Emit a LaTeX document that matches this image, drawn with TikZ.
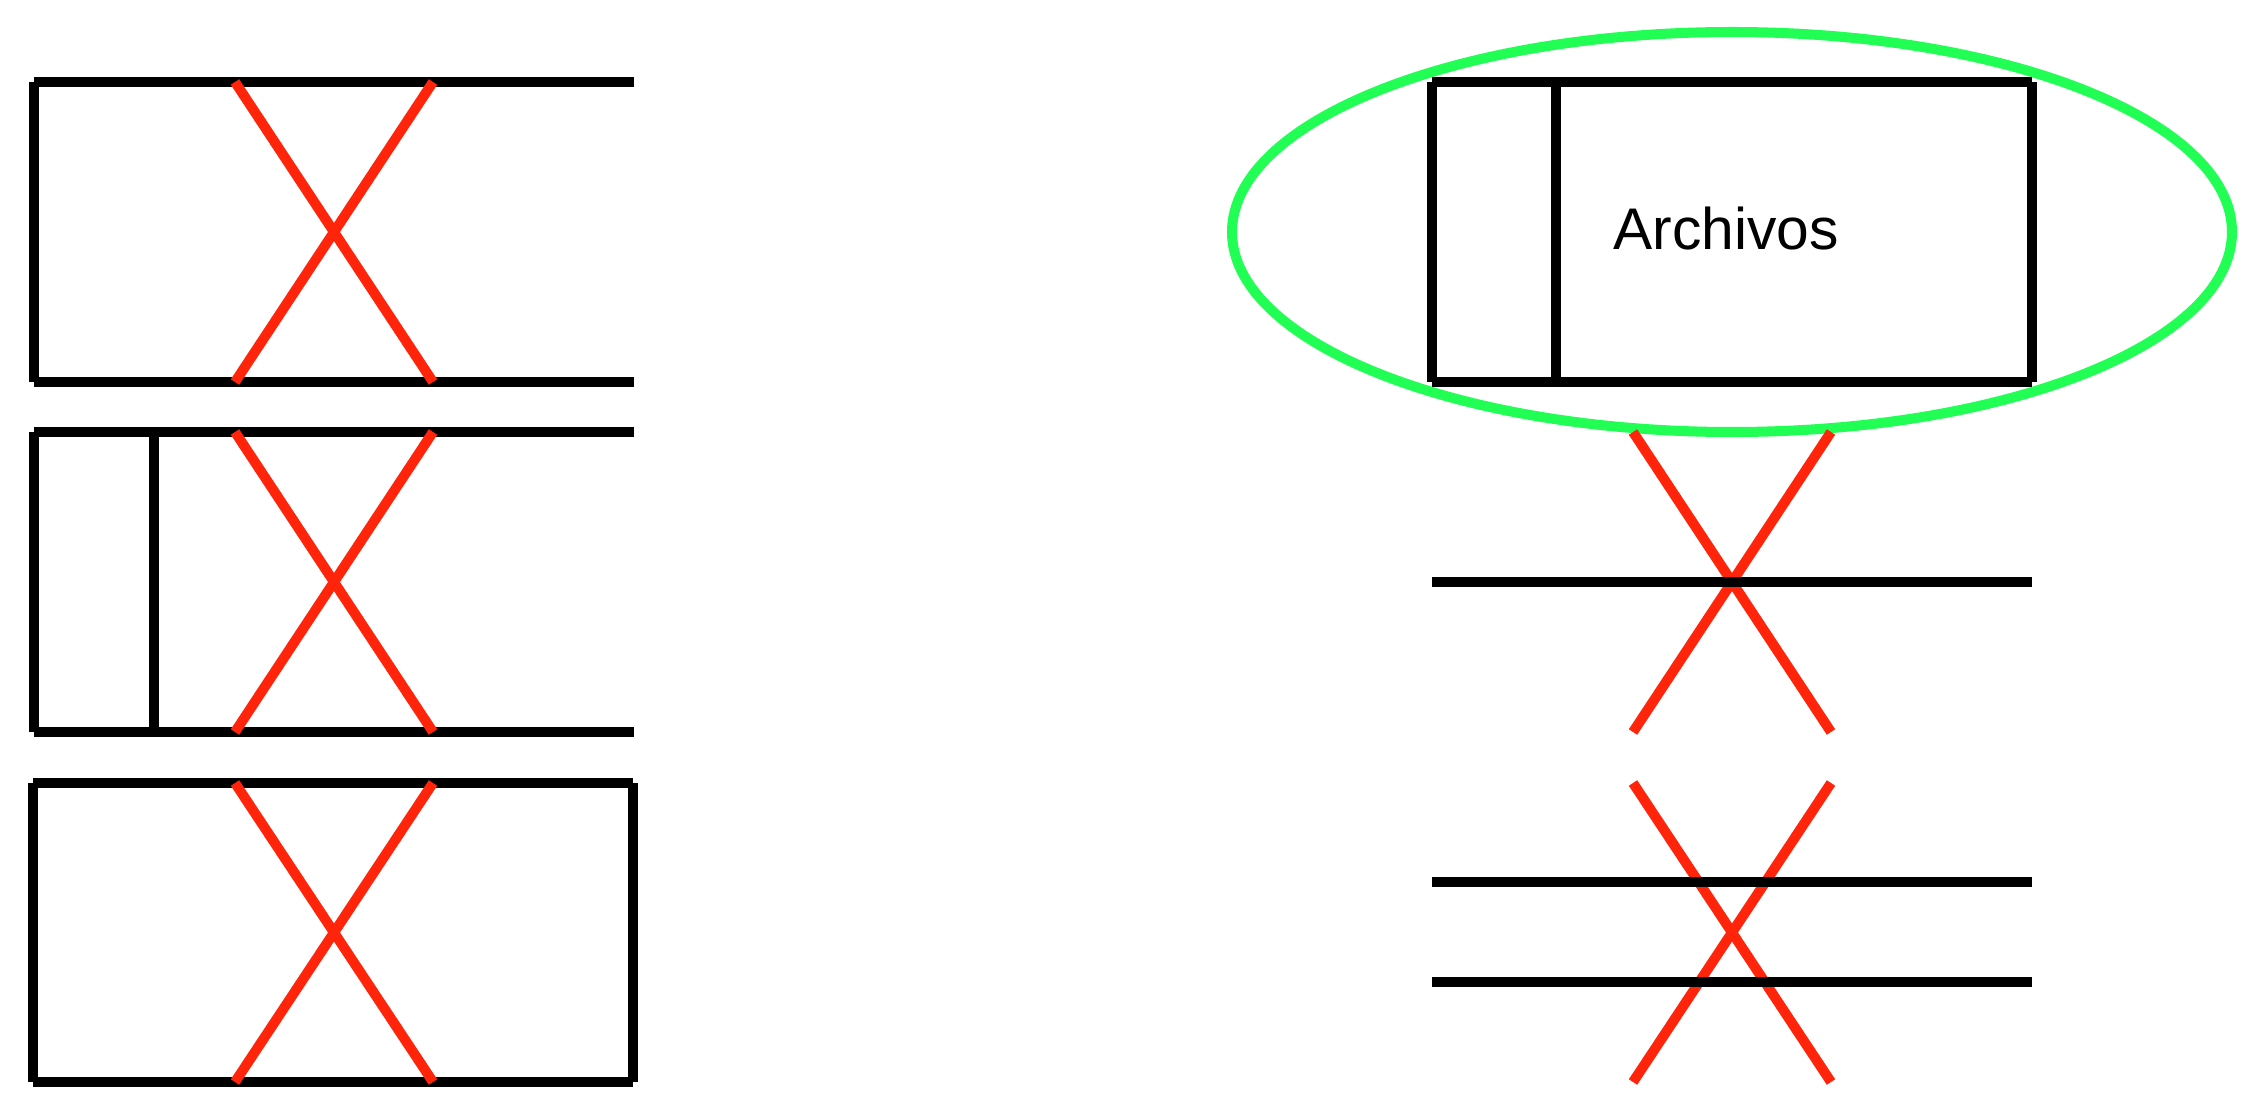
\documentclass[tikz,border=0pt]{standalone}
\usepackage{fontspec}
\setmainfont{Liberation Sans}
\definecolor{xred}{RGB}{255,36,10}
\definecolor{xgreen}{RGB}{33,255,84}
\begin{document}
\begin{tikzpicture}[x=0.01cm,y=-0.01cm,
  blk/.style={draw=black,line width=2.85pt,line cap=butt},
  crs/.style={draw=xred,line width=2.85pt,line cap=butt},
  grn/.style={draw=xgreen,line width=2.85pt}]
\useasboundingbox[fill=white] (0,0) rectangle (2260,1115);
% ---------- left group ----------
% box 1 (open on the right)
\draw[blk] (34,82) -- (634,82);
\draw[blk] (34,382) -- (634,382);
\draw[blk] (34,82) -- (34,382);
\draw[crs] (235,82) -- (433,382);
\draw[crs] (433,82) -- (235,382);
% box 2 (open, with inner bar)
\draw[blk] (34,432) -- (634,432);
\draw[blk] (34,732) -- (634,732);
\draw[blk] (34,432) -- (34,732);
\draw[blk] (154,432) -- (154,732);
\draw[crs] (235,432) -- (433,732);
\draw[crs] (433,432) -- (235,732);
% box 3 (closed)
\draw[blk] (33,783) -- (633,783);
\draw[blk] (33,1082) -- (633,1082);
\draw[blk] (33,783) -- (33,1082);
\draw[blk] (633,783) -- (633,1082);
\draw[crs] (235,783) -- (433,1082);
\draw[crs] (433,783) -- (235,1082);
% ---------- right group ----------
\draw[grn] (1732,232) ellipse [x radius=500, y radius=200];
\draw[blk] (1432,82) -- (2032,82);
\draw[blk] (1432,382) -- (2032,382);
\draw[blk] (1432,82) -- (1432,382);
\draw[blk] (1556,82) -- (1556,382);
\draw[blk] (2032,82) -- (2032,382);
\node[anchor=base west,inner sep=0pt,font=\fontsize{16.7pt}{20pt}\selectfont] (arch) at (1613,249) {Archivos};
% first cross with one line
\draw[crs] (1633,432) -- (1831,732);
\draw[crs] (1831,432) -- (1633,732);
\draw[blk] (1432,582) -- (2032,582);
% second cross with two lines
\draw[crs] (1633,783) -- (1831,1082);
\draw[crs] (1831,783) -- (1633,1082);
\draw[blk] (1432,882) -- (2032,882);
\draw[blk] (1432,982) -- (2032,982);
\end{tikzpicture}
\end{document}
